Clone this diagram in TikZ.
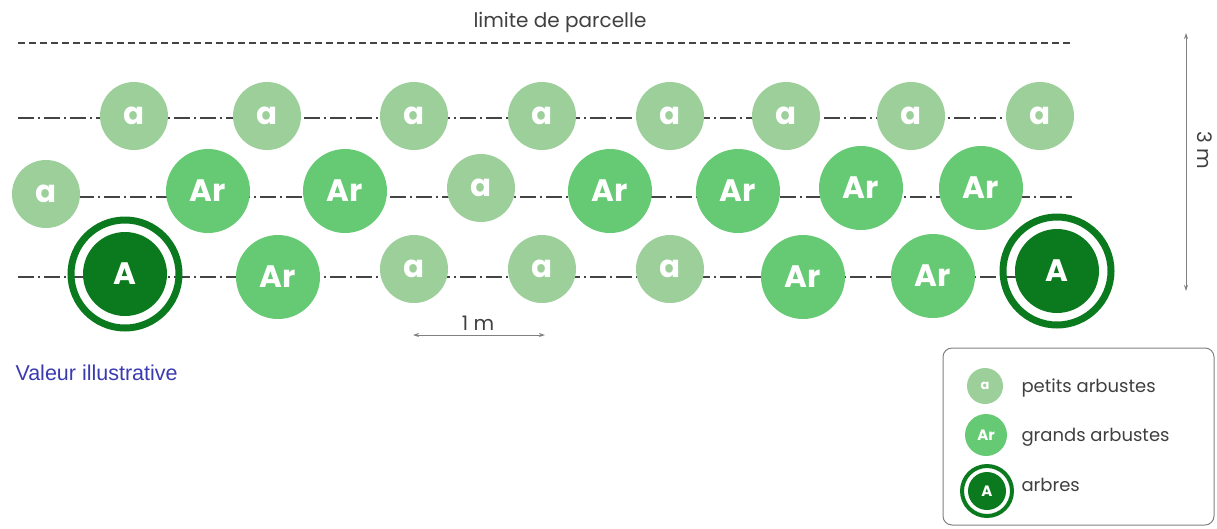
\documentclass[tikz,border=0pt]{standalone}
\usepackage{fontspec}
\setmainfont{Poppins}
\newfontfamily\notefont{Liberation Sans}
\usetikzlibrary{positioning,arrows.meta}
\definecolor{petitgreen}{HTML}{9CCF9A}
\definecolor{grandgreen}{HTML}{66C974}
\definecolor{arbregreen}{HTML}{0B7A1E}
\definecolor{notecolor}{HTML}{3B3BB0}
\definecolor{linegray}{HTML}{444444}

\begin{document}
\begin{tikzpicture}[
    x=1pt,y=-1pt,
    font=\fontsize{20}{23}\selectfont,
    plant/.style={circle,inner sep=0pt,text=white,font=\fontsize{31}{31}\selectfont\bfseries},
    petit/.style={plant,fill=petitgreen,minimum size=68pt},
    grand/.style={plant,fill=grandgreen,minimum size=84pt},
    arbre/.style={plant,fill=arbregreen,minimum size=84pt},
    ring/.style={draw=arbregreen,line width=7pt},
    rowline/.style={draw=linegray,line width=1.3pt,dash pattern=on 16pt off 4pt on 2pt off 4pt},
    limit/.style={draw=linegray,line width=1.3pt,dash pattern=on 7pt off 4pt},
    measure/.style={draw=gray,line width=1pt,{Stealth[length=6pt,width=4pt]}-{Stealth[length=6pt,width=4pt]}},
    legtext/.style={anchor=west,text=black!75,font=\fontsize{18}{21}\selectfont}
  ]

  \useasboundingbox (0,0) rectangle (1217,528);

  % parcel limit
  \coordinate (lw) at (18,43);
  \coordinate (le) at (1070,43);
  \draw[limit] (lw) -- (le);
  \node(limtext) [text=black!75] at (560,22) {limite de parcelle};

  % row guide lines
  \coordinate (r1w) at (18,118);
  \coordinate (r1e) at (1010,118);
  \coordinate (r2w) at (78,197);
  \coordinate (r2e) at (1072,197);
  \coordinate (r3w) at (18,277);
  \coordinate (r3e) at (1040,277);
  \draw[rowline] (r1w) -- (r1e);
  \draw[rowline] (r2w) -- (r2e);
  \draw[rowline] (r3w) -- (r3e);

  % row 1
  \node(p11) [petit] at (134,116) {a};
  \node(p12) [petit] at (267,116) {a};
  \node(p13) [petit] at (414,116) {a};
  \node(p14) [petit] at (542,116) {a};
  \node(p15) [petit] at (670,116) {a};
  \node(p16) [petit] at (786,116) {a};
  \node(p17) [petit] at (911,116) {a};
  \node(p18) [petit] at (1040,116) {a};

  % row 2
  \node(p21) [petit] at (46,194) {a};
  \node(g21) [grand] at (208,191) {Ar};
  \node(g22) [grand] at (345,191) {Ar};
  \node(p22) [petit] at (481,188) {a};
  \node(g23) [grand] at (610,191) {Ar};
  \node(g24) [grand] at (738,191) {Ar};
  \node(g25) [grand] at (861,188) {Ar};
  \node(g26) [grand] at (981,188) {Ar};

  % row 3
  \node(t31) [arbre] at (125,274) {A};
  \draw[ring] (t31.center) circle (54pt);
  \node(g31) [grand] at (278,277) {Ar};
  \node(p31) [petit] at (414,269) {a};
  \node(p32) [petit] at (542,269) {a};
  \node(p33) [petit] at (670,269) {a};
  \node(g32) [grand] at (803,277) {Ar};
  \node(g33) [grand] at (933,276) {Ar};
  \node(t32) [arbre] at (1057,271) {A};
  \draw[ring] (t32.center) circle (54pt);

  % measures
  \coordinate (m1w) at (413,335);
  \coordinate (m1e) at (545,335);
  \draw[measure] (m1w) -- (m1e);
  \node(m1text) [text=black!75] at (478,323) {1 m};

  \coordinate (m3t) at (1186,33);
  \coordinate (m3b) at (1186,291);
  \draw[measure] (m3t) -- (m3b);
  \node(m3text) [text=black!75,rotate=-90] at (1205,150) {3 m};

  \node(note) [anchor=west,text=notecolor,font=\notefont\fontsize{21.5}{24}\selectfont] at (12,373) {Valeur illustrative};

  % legend
  \draw[draw=gray,line width=1pt,rounded corners=9pt] (943,348) rectangle (1214,525);
  \node(legp) [petit,minimum size=36pt,font=\fontsize{13}{13}\selectfont\bfseries] at (985,386) {a};
  \node(legptext) [legtext] at (1018,388) {petits arbustes};
  \node(legg) [grand,minimum size=42pt,font=\fontsize{15}{15}\selectfont\bfseries] at (986,435) {Ar};
  \node(leggtext) [legtext] at (1018,437) {grands arbustes};
  \node(legt) [arbre,minimum size=38pt,font=\fontsize{15}{15}\selectfont\bfseries] at (987,491) {A};
  \draw[ring,line width=4pt] (legt.center) circle (25pt);
  \node(legttext) [legtext] at (1018,485) {arbres};

\end{tikzpicture}
\end{document}
